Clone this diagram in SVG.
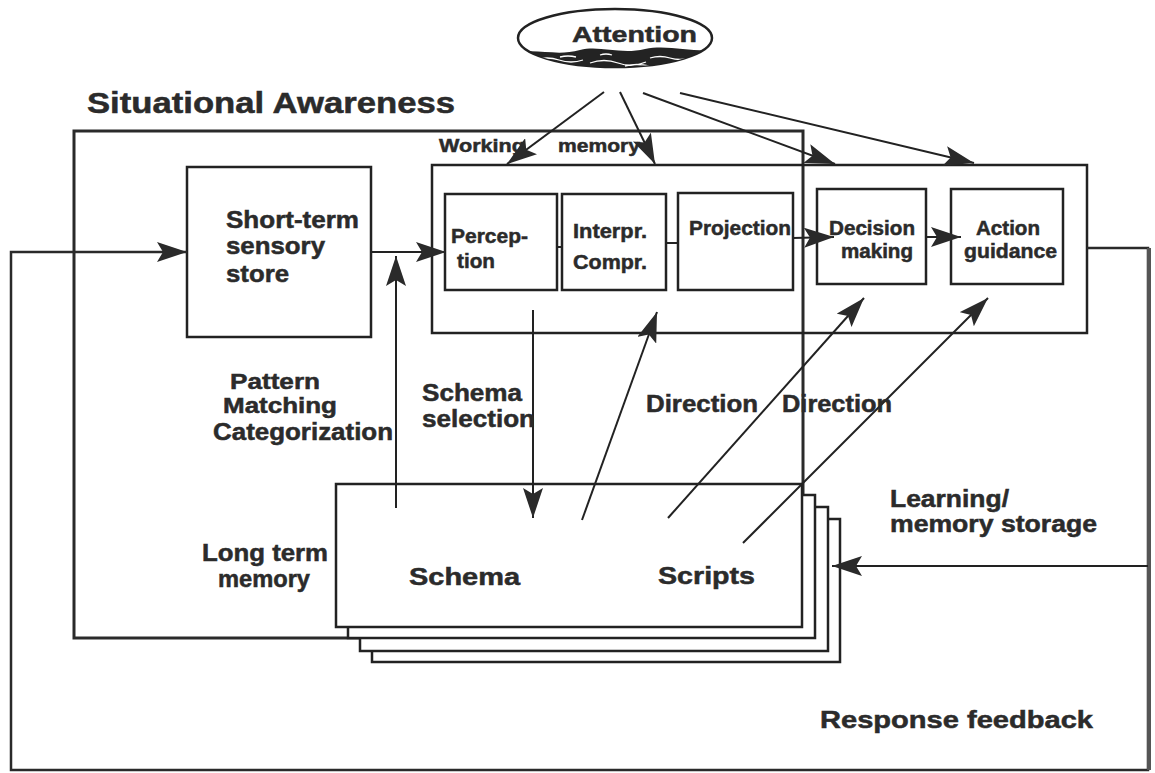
<svg xmlns="http://www.w3.org/2000/svg" width="1155" height="773" viewBox="0 0 1155 773">
<style>
.box{fill:none;stroke:#222;stroke-width:2.5}
.wbox{fill:#fff;stroke:#222;stroke-width:2.5}
.ln{fill:none;stroke:#222;stroke-width:2}
.t{font-family:"Liberation Sans",Arial,Helvetica,sans-serif;font-weight:bold;fill:#2b2b2b;stroke:#2b2b2b;stroke-width:0.5}
</style>
<defs>
<marker id="ah" markerUnits="userSpaceOnUse" markerWidth="30" markerHeight="20" refX="30" refY="10" orient="auto" viewBox="0 0 30 20">
<path d="M0,0 L30,10 L0,20 L6,10 Z" fill="#2a2a2a"/>
</marker>
<clipPath id="ellclip"><ellipse cx="615" cy="38" rx="97" ry="29"/></clipPath>
</defs>
<rect width="1155" height="773" fill="#fff"/>

<g id="attention">
<ellipse cx="615" cy="38" rx="97" ry="29" fill="#fff" stroke="#222" stroke-width="2.5"/>
<g clip-path="url(#ellclip)">
<path d="M510,54 C535,47 555,57 580,50 C600,45 620,55 645,49 C670,44 695,54 722,49 L722,75 L510,75 Z" fill="#232323"/>
<path d="M535,60 q12,-4 24,0 t24,0 M590,63 q14,-5 28,0 t28,-1 M560,57 q8,-2 16,0 M650,58 q10,-3 20,0 t20,0 M600,55 q6,-2 12,0 M625,66 q12,-3 24,0 M545,66 q10,-2 20,0" fill="none" stroke="#fff" stroke-width="1.3"/>
</g>
<text class="t" x="572" y="42" font-size="22" textLength="125" lengthAdjust="spacingAndGlyphs">Attention</text>
</g>

<g id="situational-awareness">
<rect x="74" y="131" width="729" height="507" fill="none" stroke="#2a2a2a" stroke-width="3"/>
<text class="t" x="87" y="113" font-size="29" textLength="368" lengthAdjust="spacingAndGlyphs">Situational Awareness</text>
</g>

<g id="working-memory">
<rect class="box" x="432" y="165" width="655" height="168"/>
<text class="t" x="439" y="152" font-size="19" textLength="86" lengthAdjust="spacingAndGlyphs">Working</text>
<text class="t" x="558" y="152" font-size="19" textLength="82" lengthAdjust="spacingAndGlyphs">memory</text>
</g>

<g id="short-term-store">
<rect class="box" x="187" y="167" width="184" height="170"/>
<text class="t" x="226" y="228" font-size="24" textLength="133" lengthAdjust="spacingAndGlyphs">Short-term</text>
<text class="t" x="226" y="254" font-size="24" textLength="99" lengthAdjust="spacingAndGlyphs">sensory</text>
<text class="t" x="226" y="282" font-size="24" textLength="63" lengthAdjust="spacingAndGlyphs">store</text>
</g>

<g id="perception">
<rect class="box" x="445" y="194" width="112" height="96"/>
<text class="t" x="451" y="243" font-size="21" textLength="77" lengthAdjust="spacingAndGlyphs">Percep-</text>
<text class="t" x="457" y="268" font-size="21" textLength="38" lengthAdjust="spacingAndGlyphs">tion</text>
</g>

<g id="interpretation">
<rect class="box" x="562" y="194" width="104" height="96"/>
<text class="t" x="573" y="238" font-size="21" textLength="74" lengthAdjust="spacingAndGlyphs">Interpr.</text>
<text class="t" x="573" y="269" font-size="21" textLength="74" lengthAdjust="spacingAndGlyphs">Compr.</text>
</g>

<g id="projection">
<rect class="box" x="678" y="193" width="115" height="97"/>
<text class="t" x="689" y="235" font-size="21" textLength="102" lengthAdjust="spacingAndGlyphs">Projection</text>
</g>

<g id="decision-making">
<rect class="box" x="817" y="189" width="109" height="95"/>
<text class="t" x="829" y="235" font-size="20" textLength="86" lengthAdjust="spacingAndGlyphs">Decision</text>
<text class="t" x="841" y="258" font-size="20" textLength="72" lengthAdjust="spacingAndGlyphs">making</text>
</g>

<g id="action-guidance">
<rect class="box" x="951" y="189" width="112" height="95"/>
<text class="t" x="976" y="235" font-size="20" textLength="64" lengthAdjust="spacingAndGlyphs">Action</text>
<text class="t" x="964" y="258" font-size="20" textLength="93" lengthAdjust="spacingAndGlyphs">guidance</text>
</g>

<g id="long-term-memory">
<rect class="wbox" x="372" y="519" width="468" height="143"/>
<rect class="wbox" x="360" y="507" width="468" height="144"/>
<rect class="wbox" x="348" y="495" width="467" height="143"/>
<rect class="wbox" x="336" y="484" width="466" height="143"/>
<text class="t" x="409" y="585" font-size="24" textLength="111" lengthAdjust="spacingAndGlyphs">Schema</text>
<text class="t" x="658" y="584" font-size="24" textLength="97" lengthAdjust="spacingAndGlyphs">Scripts</text>
</g>

<g id="connectors">
<line class="ln" x1="604" y1="92" x2="507" y2="164" marker-end="url(#ah)"/>
<line class="ln" x1="620" y1="92" x2="655" y2="164" marker-end="url(#ah)"/>
<line class="ln" x1="643" y1="93" x2="835" y2="164" marker-end="url(#ah)"/>
<line class="ln" x1="680" y1="93" x2="974" y2="163" marker-end="url(#ah)"/>
<line class="ln" x1="371" y1="252" x2="446" y2="252" marker-end="url(#ah)"/>
<line class="ln" x1="557" y1="247" x2="562" y2="247"/>
<line class="ln" x1="666" y1="243" x2="678" y2="243"/>
<line class="ln" x1="793" y1="238" x2="834" y2="237" marker-end="url(#ah)"/>
<line class="ln" x1="926" y1="237" x2="961" y2="237" marker-end="url(#ah)"/>
<line class="ln" x1="396" y1="508" x2="396" y2="256" marker-end="url(#ah)"/>
<line class="ln" x1="533" y1="310" x2="533" y2="518" marker-end="url(#ah)"/>
<line class="ln" x1="582" y1="520" x2="657" y2="312" marker-end="url(#ah)"/>
<line class="ln" x1="668" y1="518" x2="864" y2="298" marker-end="url(#ah)"/>
<line class="ln" x1="743" y1="543" x2="988" y2="298" marker-end="url(#ah)"/>
<path d="M1087,248 H1148 V770 H11 V252 H187" fill="none" stroke="#2a2a2a" stroke-width="2.5" marker-end="url(#ah)"/>
<line x1="1149" y1="248" x2="1149" y2="770" stroke="#555" stroke-width="4"/>
<line class="ln" x1="1148" y1="566" x2="832" y2="566" marker-end="url(#ah)"/>
</g>

<g id="labels">
<text class="t" x="230" y="389" font-size="22" textLength="90" lengthAdjust="spacingAndGlyphs">Pattern</text>
<text class="t" x="223" y="413" font-size="22" textLength="114" lengthAdjust="spacingAndGlyphs">Matching</text>
<text class="t" x="213" y="440" font-size="23" textLength="180" lengthAdjust="spacingAndGlyphs">Categorization</text>
<text class="t" x="422" y="401" font-size="23" textLength="100" lengthAdjust="spacingAndGlyphs">Schema</text>
<text class="t" x="422" y="427" font-size="23" textLength="113" lengthAdjust="spacingAndGlyphs">selection</text>
<text class="t" x="646" y="412" font-size="23" textLength="112" lengthAdjust="spacingAndGlyphs">Direction</text>
<text class="t" x="782" y="412" font-size="23" textLength="110" lengthAdjust="spacingAndGlyphs">Direction</text>
<text class="t" x="202" y="561" font-size="23" textLength="126" lengthAdjust="spacingAndGlyphs">Long term</text>
<text class="t" x="218" y="587" font-size="23" textLength="92" lengthAdjust="spacingAndGlyphs">memory</text>
<text class="t" x="890" y="507" font-size="23" textLength="119" lengthAdjust="spacingAndGlyphs">Learning/</text>
<text class="t" x="890" y="532" font-size="23" textLength="207" lengthAdjust="spacingAndGlyphs">memory storage</text>
<text class="t" x="820" y="728" font-size="24" textLength="273" lengthAdjust="spacingAndGlyphs">Response feedback</text>
</g>
</svg>
